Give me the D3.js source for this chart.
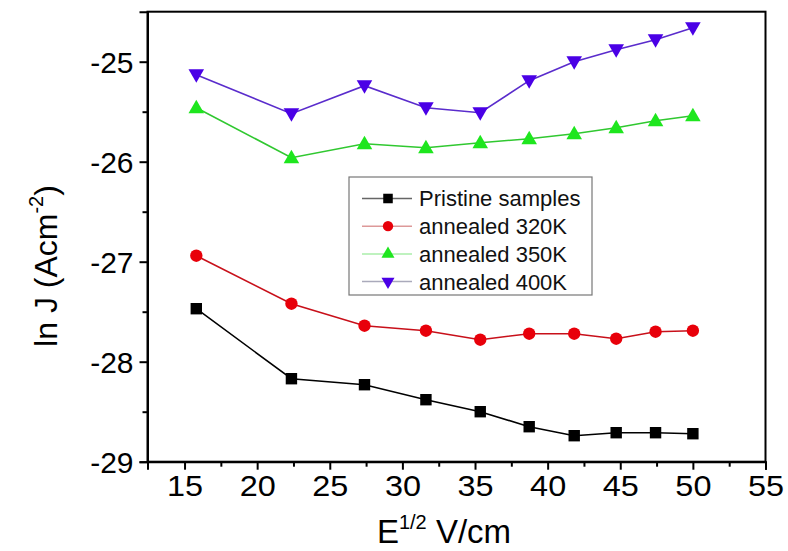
<!DOCTYPE html>
<html><head><meta charset="utf-8">
<script src="https://cdn.jsdelivr.net/npm/d3@7"></script>
<style>body{margin:0;background:#fff}svg{display:block}text{font-family:"Liberation Sans",Arial,sans-serif}</style>
</head><body>
<svg id="c" width="788" height="551"></svg>
<script>
const xValues = [15.81, 22.36, 27.39, 31.62, 35.36, 38.73, 41.83, 44.72, 47.43, 50.0];
const pristine = [-27.47, -28.17, -28.23, -28.38, -28.50, -28.65, -28.74, -28.71, -28.71, -28.72];
const annealed320 = [-26.94, -27.42, -27.64, -27.69, -27.78, -27.72, -27.72, -27.77, -27.70, -27.69];
const annealed350 = [-25.46, -25.96, -25.82, -25.86, -25.81, -25.77, -25.72, -25.66, -25.59, -25.54];
const annealed400 = [-25.13, -25.52, -25.24, -25.46, -25.51, -25.19, -25.00, -24.88, -24.78, -24.66];
const seriesNames = ["Pristine samples", "annealed 320K", "annealed 350K", "annealed 400K"];
const xTicks = [15, 20, 25, 30, 35, 40, 45, 50, 55];
const yTicks = [-29, -28, -27, -26, -25];

const svg = d3.select("#c");
const L = 147.5, R = 765.5, T = 11.7, B = 461.7;
const x = d3.scaleLinear().domain([12.45, 55]).range([L, R]);
const y = d3.scaleLinear().domain([-29, -24.5]).range([B, T]);

const series = [
  {name: seriesNames[0], v: pristine, line: "#000", fill: "#000", sym: d3.symbolSquare, size: 130, leg: "#666"},
  {name: seriesNames[1], v: annealed320, line: "#c8101a", fill: "#e8000a", sym: d3.symbolCircle, size: 120, leg: "#d99"},
  {name: seriesNames[2], v: annealed350, line: "#30c830", fill: "#1ee61e", sym: d3.symbolTriangle, size: 105, leg: "#aea"},
  {name: seriesNames[3], v: annealed400, line: "#5a2ccc", fill: "#4a00e6", sym: d3.symbolTriangle, size: 105, down: true, leg: "#aab"}
];

const lineGen = d3.line().x(d => x(d[0])).y(d => y(d[1]));
series.forEach(s => {
  const pts = xValues.map((xv, i) => [xv, s.v[i]]);
  svg.append("path").attr("d", lineGen(pts)).attr("fill", "none")
    .attr("stroke", s.line).attr("stroke-width", 1.6);
  svg.append("g").selectAll("path").data(pts).join("path")
    .attr("d", d3.symbol().type(s.sym).size(s.size))
    .attr("transform", d => `translate(${x(d[0])},${y(d[1]) + (s.sym === d3.symbolTriangle ? (s.down ? -1 : 1) : 0)})` + (s.down ? " rotate(180)" : ""))
    .attr("fill", s.fill);
});

// frame
svg.append("rect").attr("x", L).attr("y", T).attr("width", R - L).attr("height", B - T)
  .attr("fill", "none").attr("stroke", "#000").attr("stroke-width", 2);

// axes
const xAxis = svg.append("g").attr("transform", `translate(0,${B})`)
  .call(d3.axisBottom(x).tickValues(xTicks).tickSize(8).tickPadding(5).tickFormat(d3.format("d")));
svg.append("g").attr("transform", `translate(0,${B})`)
  .call(d3.axisBottom(x).tickValues(d3.range(17.5, 55, 5)).tickSize(5).tickFormat(""))
  .call(g => g.select(".domain").remove());
const yAxis = svg.append("g").attr("transform", `translate(${L},0)`)
  .call(d3.axisLeft(y).tickValues(yTicks).tickSize(8).tickPadding(6).tickFormat(d => d3.format("d")(d).replace("−", "-")));
svg.append("g").attr("transform", `translate(${L},0)`)
  .call(d3.axisLeft(y).tickValues([-28.5, -27.5, -26.5, -25.5]).tickSize(5).tickFormat(""))
  .call(g => g.select(".domain").remove());
svg.selectAll(".domain").attr("stroke-width", 2);
svg.selectAll(".tick line").attr("stroke-width", 2);
xAxis.selectAll("text").attr("font-size", 30).attr("font-family", "Liberation Sans, Arial").attr("fill", "#000")
  .attr("transform", "scale(1.08,1)");
yAxis.selectAll("text").attr("font-size", 30).attr("font-family", "Liberation Sans, Arial").attr("fill", "#000")
  .attr("dy", "0.36em");

// axis titles
const xt = svg.append("text").attr("x", 444).attr("y", 543).attr("text-anchor", "middle")
  .attr("font-size", 33).attr("fill", "#000");
xt.append("tspan").text("E");
xt.append("tspan").attr("font-size", 20).attr("dy", -14).text("1/2");
xt.append("tspan").attr("dy", 14).text(" V/cm");

const yt = svg.append("text").attr("transform", "translate(57,266) rotate(-90)").attr("text-anchor", "middle")
  .attr("font-size", 32).attr("fill", "#000");
yt.append("tspan").text("ln J (Acm");
yt.append("tspan").attr("font-size", 20).attr("dy", -14).text("-2");
yt.append("tspan").attr("dy", 14).text(")");

// legend
const lg = svg.append("g");
lg.append("rect").attr("x", 349).attr("y", 177).attr("width", 243).attr("height", 118)
  .attr("fill", "#fff").attr("stroke", "#777").attr("stroke-width", 1.2);
series.forEach((s, i) => {
  const cy = 198.5 + i * 27.7;
  lg.append("line").attr("x1", 362).attr("x2", 412).attr("y1", cy).attr("y2", cy)
    .attr("stroke", s.leg).attr("stroke-width", 1.5);
  lg.append("path").attr("d", d3.symbol().type(s.sym).size(s.size * 0.7))
    .attr("transform", `translate(388,${cy})` + (s.down ? " rotate(180)" : ""))
    .attr("fill", s.fill);
  lg.append("text").attr("x", 419).attr("y", cy).attr("dy", "0.36em")
    .attr("font-size", 22).attr("fill", "#111").text(s.name);
});
</script>
</body></html>
